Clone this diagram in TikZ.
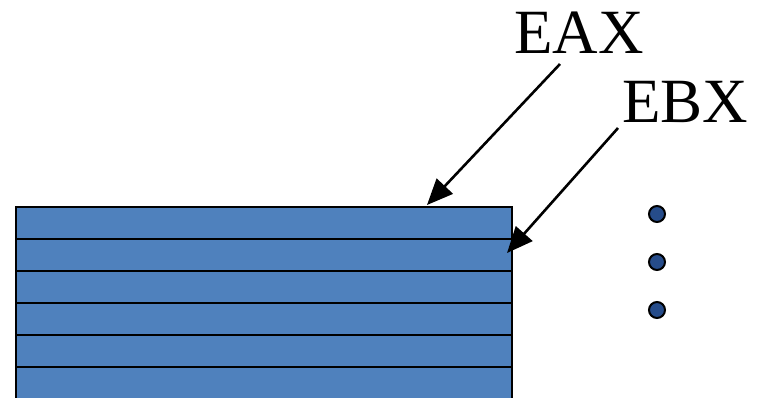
\documentclass[tikz,border=0pt]{standalone}
\usepackage{fontspec}
\setmainfont{Liberation Serif}
\usetikzlibrary{arrows.meta, positioning}
\definecolor{regblue}{RGB}{79,129,189}
\definecolor{dotblue}{RGB}{38,76,138}

\begin{document}
\begin{tikzpicture}[x=1pt,y=-1pt,
  regbox/.style={draw=black, line width=2.6pt, fill=regblue, minimum width=496pt, minimum height=32pt, inner sep=0pt, outer sep=0pt, anchor=north west},
  reglabel/.style={inner sep=0pt, anchor=base west, font=\fontsize{63}{70}\selectfont},
  pointer/.style={line width=2.6pt, -{Triangle[length=26pt,width=22pt]}},
  dotmark/.style={circle, draw=black, line width=2pt, fill=dotblue, minimum size=16pt, inner sep=0pt}]

\useasboundingbox (0,0) rectangle (759,397);

% register stack
\foreach \i in {0,...,5}
  \node[regbox] (reg\i) at (16,{207+32*\i}) {};

% labels
\node[reglabel] (eax) at (514,53) {EAX};
\node[reglabel] (ebx) at (622,122) {EBX};

\coordinate (eaxtail) at (560,64);
\coordinate (ebxtail) at (618,128);
\coordinate (eaxtip) at (427,205);
\coordinate (ebxtip) at (507,253);

\draw[pointer] (eaxtail) -- (eaxtip);
\draw[pointer] (ebxtail) -- (ebxtip);

% more registers
\node[dotmark] (dot1) at (657,214) {};
\node[dotmark] (dot2) at (657,262) {};
\node[dotmark] (dot3) at (657,310) {};

\end{tikzpicture}
\end{document}
